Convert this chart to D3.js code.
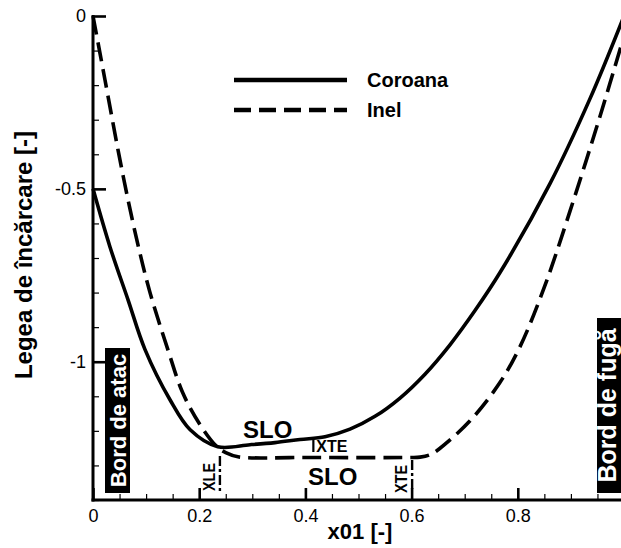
<!DOCTYPE html>
<html>
<head>
<meta charset="utf-8">
<script src="https://cdn.jsdelivr.net/npm/d3@7"></script>
<style>
  html, body { margin: 0; padding: 0; background: #fff; }
  svg { display: block; font-family: "Liberation Sans", Arial, sans-serif; }
</style>
</head>
<body>
<svg id="chart" width="621" height="548"></svg>
<script>
// Loading-law distributions along x01 for the crown (Coroana) and the ring (Inel)
const coroanaX = [0.0, 0.032, 0.066, 0.098, 0.145, 0.183, 0.235, 0.2957, 0.3427, 0.3898, 0.4369, 0.4840, 0.5311, 0.5782, 0.6252, 0.6723, 0.7194, 0.7665, 0.8606, 0.9360, 1.0];
const coroanaY = [-0.50, -0.668, -0.821, -0.965, -1.110, -1.197, -1.246, -1.240, -1.234, -1.225, -1.217, -1.195, -1.158, -1.105, -1.036, -0.951, -0.852, -0.742, -0.485, -0.239, 0.0];

const inelX = [0.0, 0.0226, 0.0471, 0.064, 0.0847, 0.107, 0.141, 0.169, 0.2015, 0.2335, 0.250, 0.273, 0.40, 0.597, 0.616, 0.635, 0.653, 0.710, 0.766, 0.804, 0.851, 0.898, 0.955, 1.0];
const inelY = [0.0, -0.185, -0.387, -0.517, -0.662, -0.798, -0.965, -1.090, -1.182, -1.246, -1.263, -1.275, -1.277, -1.277, -1.276, -1.269, -1.251, -1.171, -1.061, -0.957, -0.780, -0.566, -0.289, -0.058];

const xMajorTicks = [0, 0.2, 0.4, 0.6, 0.8];
const xTickLabels = ["0", "0.2", "0.4", "0.6", "0.8"];
const yMajorTicks = [0, -0.5, -1];
const yTickLabels = ["0", "-0.5", "-1"];

// Chordwise markers: leading / trailing edge of the SLO segment
const xleInel = 0.239;
const xteInel = 0.601;
const xteCoroana = 0.415;

(function draw() {
  const svg = d3.select("#chart");
  const mLeft = 93, mRight = 624, mTop = 16, mBottom = 500;

  const x = d3.scaleLinear().domain([0, 1]).range([mLeft, mRight]);
  const y = d3.scaleLinear().domain([-1.4, 0]).range([mBottom, mTop]);

  const line = d3.line().x(d => x(d[0])).y(d => y(d[1])).curve(d3.curveCatmullRom.alpha(0.5));

  const coroana = coroanaX.map((v, i) => [v, coroanaY[i]]);
  const inel = inelX.map((v, i) => [v, inelY[i]]);

  // Curves
  svg.append("path").datum(inel).attr("d", line)
    .attr("fill", "none").attr("stroke", "#000").attr("stroke-width", 3.6)
    .attr("stroke-dasharray", "19,8");
  svg.append("path").datum(coroana).attr("d", line)
    .attr("fill", "none").attr("stroke", "#000").attr("stroke-width", 3.6);

  // Axes: inward ticks, major + minor
  const xMinor = d3.range(0, 0.9501, 0.05).filter(v => !xMajorTicks.some(t => Math.abs(t - v) < 1e-6));
  const yMinor = d3.range(0, -1.4001, -0.1).filter(v => !yMajorTicks.some(t => Math.abs(t - v) < 1e-6));

  const xAxisMajor = d3.axisBottom(x).tickValues(xMajorTicks).tickSizeInner(-12).tickSizeOuter(0)
    .tickFormat((d, i) => xTickLabels[i]).tickPadding(9);
  const xAxisMinor = d3.axisBottom(x).tickValues(xMinor).tickSizeInner(-6).tickSizeOuter(0).tickFormat("");
  const yAxisMajor = d3.axisLeft(y).tickValues(yMajorTicks).tickSizeInner(-13).tickSizeOuter(0)
    .tickFormat((d, i) => yTickLabels[i]).tickPadding(7);
  const yAxisMinor = d3.axisLeft(y).tickValues(yMinor).tickSizeInner(-6).tickSizeOuter(0).tickFormat("");

  function styleAxis(g, w) {
    g.select(".domain").remove();
    g.selectAll(".tick line").attr("stroke", "#000").attr("stroke-width", w);
    g.selectAll(".tick text").attr("fill", "#000").attr("font-size", 18)
      .attr("font-family", "Liberation Sans, Arial, sans-serif");
  }
  svg.append("g").attr("transform", `translate(0,${mBottom})`).call(xAxisMinor).call(g => styleAxis(g, 1.2));
  svg.append("g").attr("transform", `translate(0,${mBottom})`).call(xAxisMajor).call(g => styleAxis(g, 2.6));
  svg.append("g").attr("transform", `translate(${mLeft},0)`).call(yAxisMinor).call(g => styleAxis(g, 1.2));
  svg.append("g").attr("transform", `translate(${mLeft},0)`).call(yAxisMajor).call(g => styleAxis(g, 2.6));

  // Axis lines
  svg.append("line").attr("x1", mLeft).attr("x2", mLeft).attr("y1", mTop - 1).attr("y2", mBottom + 1.5)
    .attr("stroke", "#000").attr("stroke-width", 3);
  svg.append("line").attr("x1", mLeft - 1.5).attr("x2", mRight).attr("y1", mBottom).attr("y2", mBottom)
    .attr("stroke", "#000").attr("stroke-width", 3);

  // Axis titles
  svg.append("text").attr("x", 360).attr("y", 539).attr("text-anchor", "middle")
    .attr("font-size", 22).attr("font-weight", "bold").text("x01 [-]");
  svg.append("text").attr("transform", `translate(32,255) rotate(-90)`).attr("text-anchor", "middle")
    .attr("font-size", 24).attr("font-weight", "bold").text("Legea de încărcare [-]");

  // Legend
  const legend = svg.append("g");
  legend.append("line").attr("x1", 234).attr("x2", 347).attr("y1", 80).attr("y2", 80)
    .attr("stroke", "#000").attr("stroke-width", 4.5);
  legend.append("line").attr("x1", 234).attr("x2", 347).attr("y1", 110).attr("y2", 110)
    .attr("stroke", "#000").attr("stroke-width", 4.5).attr("stroke-dasharray", "17,8");
  legend.append("text").attr("x", 367).attr("y", 87).attr("font-size", 20).attr("font-weight", "bold").text("Coroana");
  legend.append("text").attr("x", 367).attr("y", 117).attr("font-size", 20).attr("font-weight", "bold").text("Inel");

  // Edge labels (white text on black boxes)
  function edgeLabel(x0, y0, w, h, label, fs, baseX) {
    svg.append("rect").attr("x", x0).attr("y", y0).attr("width", w).attr("height", h).attr("fill", "#000");
    svg.append("text").attr("transform", `translate(${baseX},${y0 + h / 2}) rotate(-90)`)
      .attr("text-anchor", "middle").attr("font-size", fs).attr("font-weight", "bold")
      .attr("fill", "#fff").text(label);
  }
  edgeLabel(105, 348, 25, 145, "Bord de atac", 22, 125.5);
  edgeLabel(597, 318, 27, 175, "Bord de fugă", 25, 616);

  // SLO labels
  svg.append("text").attr("x", 243).attr("y", 438).attr("font-size", 24).attr("font-weight", "bold").text("SLO");
  svg.append("text").attr("x", 308).attr("y", 485).attr("font-size", 24).attr("font-weight", "bold").text("SLO");

  // XTE marker on the crown curve
  svg.append("line").attr("x1", x(xteCoroana)).attr("x2", x(xteCoroana)).attr("y1", 440).attr("y2", 452)
    .attr("stroke", "#000").attr("stroke-width", 2.2);
  svg.append("text").attr("x", x(xteCoroana) + 3).attr("y", 452).attr("font-size", 16).attr("font-weight", "bold").text("XTE");

  // XLE / XTE markers on the ring curve (dash-dot verticals with rotated labels)
  function ringMarker(xv, label, y1, y2) {
    svg.append("line").attr("x1", x(xv)).attr("x2", x(xv)).attr("y1", y1).attr("y2", y2)
      .attr("stroke", "#000").attr("stroke-width", 2.4).attr("stroke-dasharray", "10,3,3,3");
    svg.append("text").attr("transform", `translate(${x(xv) - 5},${(y1 + y2) / 2 + 3}) rotate(-90)`)
      .attr("text-anchor", "middle").attr("font-size", 16).attr("font-weight", "bold")
      .attr("textLength", 28).attr("lengthAdjust", "spacingAndGlyphs").text(label);
  }
  ringMarker(xleInel, "XLE", 456, 492);
  ringMarker(xteInel, "XTE", 460, 492);
})();
</script>
</body>
</html>
